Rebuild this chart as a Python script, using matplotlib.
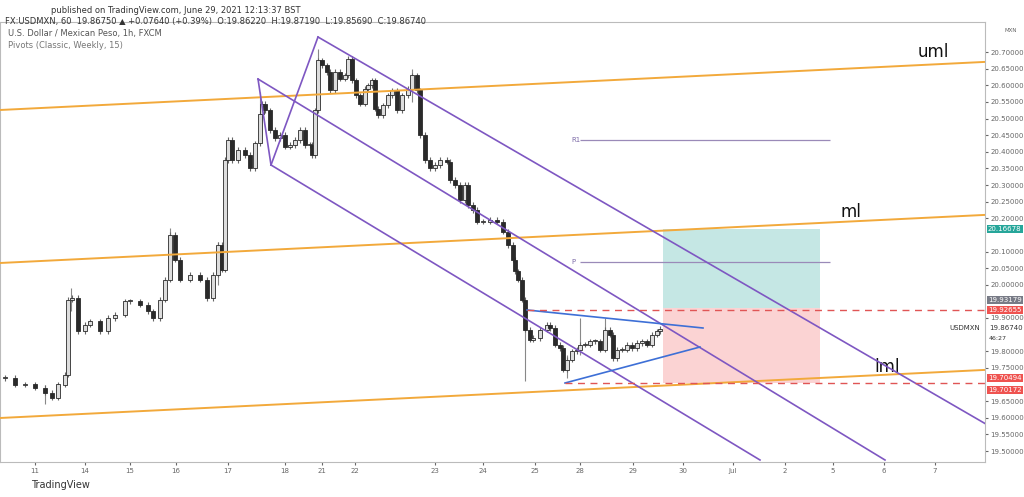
import numpy as np
import matplotlib
matplotlib.use("Agg")
from matplotlib import pyplot as plt

# hourly-ish closes: x = screen position (time), price
bar_x = [5, 15, 25, 35, 45, 52, 58, 65, 68, 72, 78, 85, 90, 100, 108, 115, 125, 130, 140, 148,
         153, 160, 165, 170, 175, 180, 190, 200, 207, 213, 218, 222, 225, 228, 232, 238, 245, 250,
         255, 260, 262, 265, 270, 275, 280, 285, 290, 295, 300, 305, 310, 312, 315, 318, 322, 327,
         330, 335, 340, 345, 348, 352, 356, 360, 365, 368, 372, 375, 378, 383, 388, 392, 397, 402,
         408, 412, 417, 420, 425, 430, 435, 440, 447, 450, 455, 460, 465, 468, 473, 477, 483, 490,
         497, 503, 508, 513, 515, 518, 522, 525, 530, 533, 540, 547, 550, 555, 560, 563, 567, 572,
         577, 580, 585, 590, 595, 600, 605, 610, 613, 617, 622, 627, 632, 637, 642, 647, 652, 657, 660]
close = [19.72, 19.70, 19.70, 19.69, 19.675, 19.66, 19.70, 19.73, 19.955, 19.96, 19.86, 19.88, 19.89,
         19.86, 19.90, 19.91, 19.95, 19.95, 19.94, 19.92, 19.90, 19.955, 20.015, 20.15, 20.075, 20.015,
         20.03, 20.015, 19.96, 20.03, 20.12, 20.045, 20.375, 20.435, 20.375, 20.405, 20.39, 20.35,
         20.425, 20.515, 20.545, 20.525, 20.465, 20.44, 20.45, 20.415, 20.42, 20.435, 20.465, 20.42,
         20.42, 20.39, 20.525, 20.675, 20.66, 20.64, 20.585, 20.64, 20.62, 20.63, 20.68, 20.615, 20.57,
         20.545, 20.59, 20.60, 20.615, 20.53, 20.51, 20.54, 20.57, 20.585, 20.525, 20.57, 20.59, 20.63,
         20.585, 20.45, 20.375, 20.35, 20.36, 20.375, 20.37, 20.315, 20.30, 20.255, 20.30, 20.24, 20.225,
         20.19, 20.19, 20.195, 20.19, 20.16, 20.12, 20.075, 20.04, 20.015, 19.955, 19.865, 19.835, 19.84,
         19.865, 19.88, 19.87, 19.82, 19.81, 19.745, 19.775, 19.80, 19.805, 19.82, 19.82, 19.83, 19.83,
         19.805, 19.865, 19.85, 19.78, 19.805, 19.805, 19.82, 19.81, 19.825, 19.83, 19.82, 19.85, 19.86, 19.867]
# notable wicks: (x, low, high)
spikes = [(45, 19.64, 19.70), (71, 19.92, 19.99), (170, 20.10, 20.17), (218, 20.00, 20.13),
          (260, 20.43, 20.58), (318, 20.55, 20.71), (412, 20.55, 20.65), (525, 19.71, 19.95),
          (580, 19.79, 19.90), (605, 19.80, 19.90), (567, 19.72, 19.79)]

date_x = [35, 85, 130, 176, 228, 285, 322, 355, 435, 483, 535, 580, 633, 683, 733, 785, 833, 884, 935]
date_lbl = ["11", "14", "15", "16", "17", "18", "21", "22", "23", "24", "25", "28", "29", "30",
            "Jul", "2", "5", "6", "7"]
price_ticks = [20.70, 20.65, 20.60, 20.55, 20.50, 20.45, 20.40, 20.35, 20.30, 20.25, 20.20,
               20.10, 20.05, 20.00, 19.90, 19.80, 19.75, 19.65, 19.60, 19.55, 19.50]


def px(y):
    # screen row -> price (20.70 at row 52, 332.5 rows per peso)
    return 20.70 - (y - 52) / 332.5


fig = plt.figure(figsize=(10.24, 4.97), dpi=100)
ax = fig.add_axes([0.0, 35 / 497, 985 / 1024, 440 / 497])
ax.set_xlim(0, 985)
ax.set_ylim(px(462), px(22))

# candles
opens = [close[0]] + close[:-1]
for x, o, c in zip(bar_x, opens, close):
    lo, hi = min(o, c), max(o, c)
    ax.vlines(x, lo - 0.008, hi + 0.008, color="#666666", lw=0.8, zorder=3)
    ax.bar(x, max(hi - lo, 0.003), bottom=lo, width=3.4,
           color="#dddddd" if c >= o else "#2a2a2a", edgecolor="#2a2a2a", lw=0.6, zorder=4)
for x, lo, hi in spikes:
    ax.vlines(x, lo, hi, color="#888888", lw=0.8, zorder=2)

# schiff / median lines (orange)
orange = "#f2a93b"
for y0, y1 in [(110, 60), (263, 213), (418, 368)]:
    ax.plot([0, 1024], [px(y0), px(y1)], color=orange, lw=1.4, zorder=5)

# descending pitchfork (purple)
purple = "#7e57c2"
ax.plot([318, 1010], [px(37), px(438)], color=purple, lw=1.2, zorder=5)
ax.plot([258, 885], [px(79), px(460)], color=purple, lw=1.2, zorder=5)
ax.plot([271, 760], [px(165), px(460)], color=purple, lw=1.2, zorder=5)
ax.plot([271, 318], [px(165), px(37)], color=purple, lw=1.2, zorder=5)
ax.plot([258, 271], [px(79), px(165)], color=purple, lw=1.2, zorder=5)

# triangle
blue = "#3d6fd6"
ax.plot([527, 703], [px(310), px(328)], color=blue, lw=1.2, zorder=6)
ax.plot([565, 700], [px(383), px(347)], color=blue, lw=1.2, zorder=6)

# dashed levels
ax.hlines([px(310), px(383)], [527, 565], 985, colors="#e05555", linestyles=(0, (5, 4)), lw=1, zorder=6)

# long position box
ax.fill_between([663, 820], px(308), px(229), color="#b2dfdb", alpha=0.75, lw=0, zorder=1)
ax.fill_between([663, 820], px(383), px(308), color="#fbc8c8", alpha=0.8, lw=0, zorder=1)

# pivots
ax.hlines([px(140), px(262)], 580, 830, colors="#9a8ab8", lw=0.9, zorder=2)
ax.text(571, px(140), "R1", fontsize=5, color="#7e6ca8", va="center")
ax.text(571, px(262), "P", fontsize=5, color="#7e6ca8", va="center")

for t, x, y in [("uml", 918, 52), ("ml", 840, 212), ("lml", 874, 367)]:
    ax.text(x, px(y), t, fontsize=12, color="#111111", va="center")

ax.text(8, px(33), "U.S. Dollar / Mexican Peso, 1h, FXCM", fontsize=6, color="#555555", va="center")
ax.text(8, px(45), "Pivots (Classic, Weekly, 15)", fontsize=6, color="#777777", va="center")

ax.set_xticks(date_x, date_lbl)
ax.yaxis.tick_right()
ax.set_yticks(price_ticks, [f"{p:.5f}" for p in price_ticks])
ax.tick_params(labelsize=5, colors="#666666", length=2, pad=2)
for s in ax.spines.values():
    s.set_color("#bbbbbb")
    s.set_linewidth(0.8)

# price tags on the right scale
tags = [(229, "20.16678", "#26a69a"), (300, "19.93179", "#787b86"), (310, "19.92655", "#ef5350"),
        (378, "19.70494", "#ef5350"), (390, "19.70172", "#ef5350")]
for y, t, c in tags:
    ax.text(1.003, px(y), t, transform=ax.get_yaxis_transform(), fontsize=5, color="white",
            va="center", bbox=dict(boxstyle="square,pad=0.2", fc=c, ec="none"), clip_on=False)
ax.text(1.004, px(328), "19.86740", transform=ax.get_yaxis_transform(), fontsize=5,
        color="#333333", va="center", clip_on=False)
ax.text(1.004, px(338), "46:27", transform=ax.get_yaxis_transform(), fontsize=4.5,
        color="#333333", va="center", clip_on=False)
ax.text(0.995, px(328), "USDMXN", transform=ax.get_yaxis_transform(), fontsize=5,
        color="#333333", va="center", ha="right")
ax.text(1.02, px(30), "MXN", transform=ax.get_yaxis_transform(), fontsize=4,
        color="#666666", va="center", clip_on=False)

fig.text(0.05, 0.988, "published on TradingView.com, June 29, 2021 12:13:37 BST", fontsize=6,
         color="#333333", va="top")
fig.text(0.005, 0.965, "FX:USDMXN, 60  19.86750 \u25b2 +0.07640 (+0.39%)  O:19.86220  H:19.87190  L:19.85690  C:19.86740",
         fontsize=6, color="#333333", va="top")
fig.text(0.03, 0.025, "TradingView", fontsize=7, color="#333333", va="center")

fig.savefig("out.png", dpi=100)
